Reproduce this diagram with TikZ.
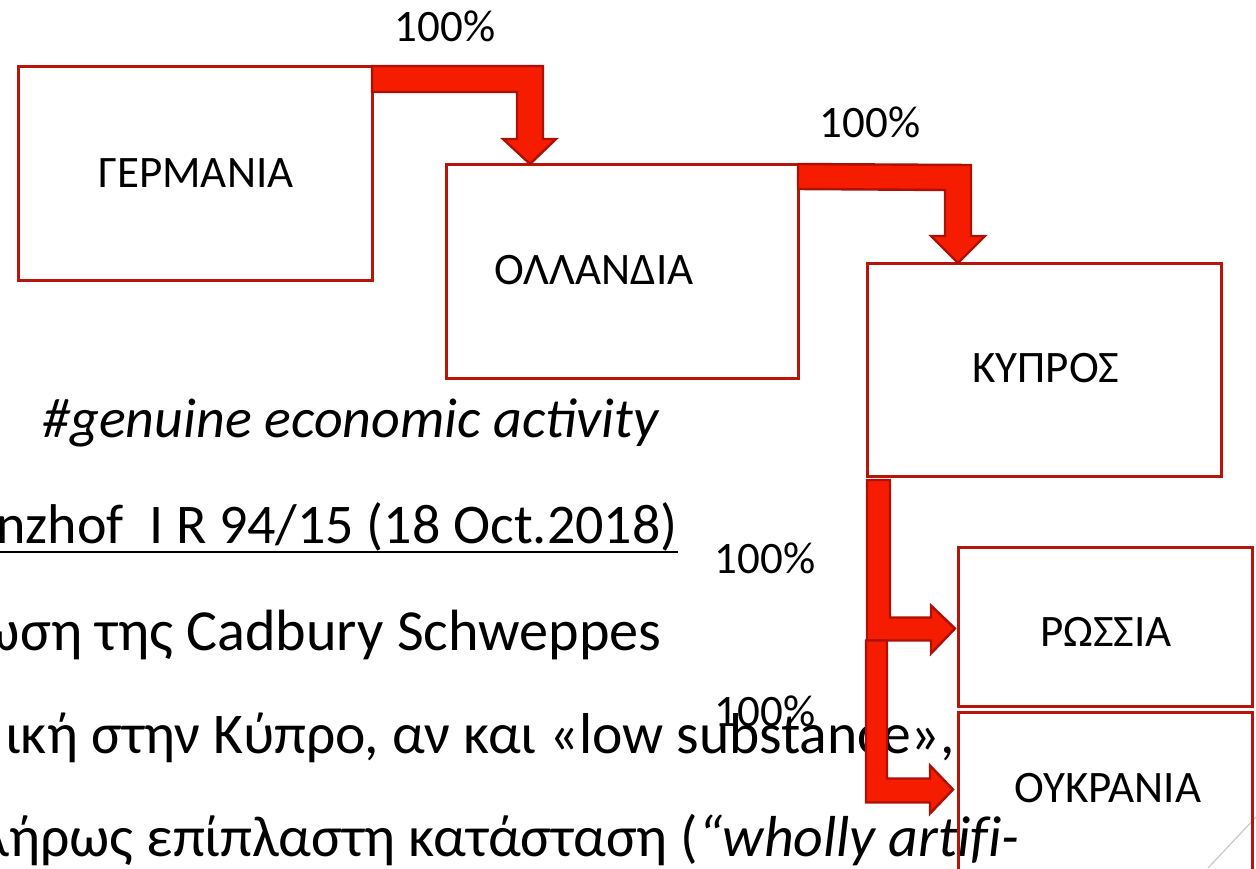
\documentclass[tikz,border=0pt]{standalone}
\usepackage{fontspec}
\setmainfont{Carlito}
\usetikzlibrary{calc}
\definecolor{boxred}{RGB}{184,20,10}
\definecolor{arrowfill}{RGB}{246,28,0}
\definecolor{arrowline}{RGB}{172,16,6}
\definecolor{cornergray}{RGB}{200,200,200}
\begin{document}
\begin{tikzpicture}[x=0.5pt,y=-0.5pt,
  box/.style={draw=boxred, line width=1.5pt, rectangle, inner sep=0pt, outer sep=0pt},
  lbl/.style={font=\fontsize{22.5}{27}\selectfont, inner sep=0pt, text=black},
  body/.style={font=\fontsize{28}{34}\selectfont, inner sep=0pt, text=black},
  gbody/.style={font=\fontsize{29.1}{34}\selectfont, inner sep=0pt, text=black},
  bentarrow/.style={fill=arrowfill, draw=arrowline, line width=1.2pt, line join=miter}]
\useasboundingbox (0,0) rectangle (1256,868);
\clip (0,0) rectangle (1256,868);

% body text
\node[body, anchor=base west] (t1) at (42,437) {\itshape \#genuine economic activity};
\node[body, anchor=base east] (t2) at (678,543) {nzhof \ I R 94/15 (18 Oct.2018)};
\draw[black, line width=1.4pt] ($(t2.base west)+(-20,9)$) -- ($(t2.base east)+(0,9)$);
\node[gbody, anchor=base east] (t3) at (662,650) {ωση της Cadbury Schweppes};
\node[gbody, font=\fontsize{28.8}{34}\selectfont, anchor=base east] (t4) at (955,753) {ική στην Κύπρο, αν και «low substance»,};
\node[gbody, font=\fontsize{28.9}{34}\selectfont, anchor=base east] (t5) at (1020,856)
  {λήρως επίπλαστη κατάσταση (\textit{\addfontfeature{Ligatures=CommonOff}“wholly artifi-}};

% corner decoration
\draw[cornergray, line width=0.6pt] (1208,868) -- (1256,817);

% boxes
\node[box, minimum width=177pt, minimum height=107pt] (ger) at (195,173) {};
\node[box, minimum width=176pt, minimum height=107pt] (oll) at (622,271) {};
\node[box, minimum width=177pt, minimum height=106.5pt] (kyp) at (1044,369.5) {};
\node[box, minimum width=147pt, minimum height=79.5pt] (ros) at (1105,626.5) {};
\node[box, minimum width=147pt, minimum height=79.5pt] (ukr) at (1105,791.5) {};

\node[lbl] (gerl) at ($(ger.center)+(1,0)$) {ΓΕΡΜΑΝΙΑ};
\node[lbl] (olll) at ($(oll.center)+(-28,-1)$) {ΟΛΛΑΝΔΙΑ};
\node[lbl] (kypl) at ($(kyp.center)+(2,-1.5)$) {ΚΥΠΡΟΣ};
\node[lbl] (rosl) at ($(ros.center)+(1,5)$) {ΡΩΣΣΙΑ};
\node[lbl] (ukrl) at ($(ukr.center)+(3,-3.5)$) {ΟΥΚΡΑΝΙΑ};

% tips
\coordinate (a1) at ($(oll.north west)+(84,0)$);
\coordinate (a2) at ($(kyp.north west)+(91,0)$);
\coordinate (a3) at ($(ros.west)+(-3,2)$);
\coordinate (a4) at ($(ukr.west)+(-5,-2)$);

% arrow Germany -> Netherlands
\draw[bentarrow] (ger.north east) -- ($(a1)+(13,-98)$) -- ($(a1)+(13,-25)$)
  -- ($(a1)+(26,-25)$) -- (a1) -- ($(a1)+(-27,-25)$) -- ($(a1)+(-13,-25)$)
  -- ($(a1)+(-13,-72)$) -- ($(ger.north east)+(0,26)$) -- cycle;
% arrow Netherlands -> Cyprus
\draw[bentarrow] (oll.north east) -- ($(a2)+(13,-98)$) -- ($(a2)+(13,-27)$)
  -- ($(a2)+(27,-27)$) -- (a2) -- ($(a2)+(-27,-27)$) -- ($(a2)+(-13,-27)$)
  -- ($(a2)+(-13,-73)$) -- ($(oll.north east)+(0,25)$) -- cycle;
% arrow Cyprus -> Russia
\draw[bentarrow] ($(kyp.south west)+(0,4)$) -- ($(kyp.south west)+(23,4)$)
  -- ($(a3)+(-65,-11)$) -- ($(a3)+(-24,-11)$) -- ($(a3)+(-24,-23)$) -- (a3)
  -- ($(a3)+(-24,25)$) -- ($(a3)+(-24,12)$) -- ($(a3)+(-88,12)$) -- cycle;
% arrow -> Ukraine
\draw[bentarrow] ($(a4)+(-87,-149)$) -- ($(a4)+(-66,-149)$) -- ($(a4)+(-66,-11)$)
  -- ($(a4)+(-23,-11)$) -- ($(a4)+(-23,-24)$) -- (a4) -- ($(a4)+(-23,24)$)
  -- ($(a4)+(-23,13)$) -- ($(a4)+(-87,13)$) -- cycle;

% percentages
\node[lbl] (p1) at (445,26) {100\%};
\node[lbl] (p2) at (870,122) {100\%};
\node[lbl] (p3) at (765,558) {100\%};
\node[lbl] (p4) at (765,711) {100\%};
\end{tikzpicture}
\end{document}
